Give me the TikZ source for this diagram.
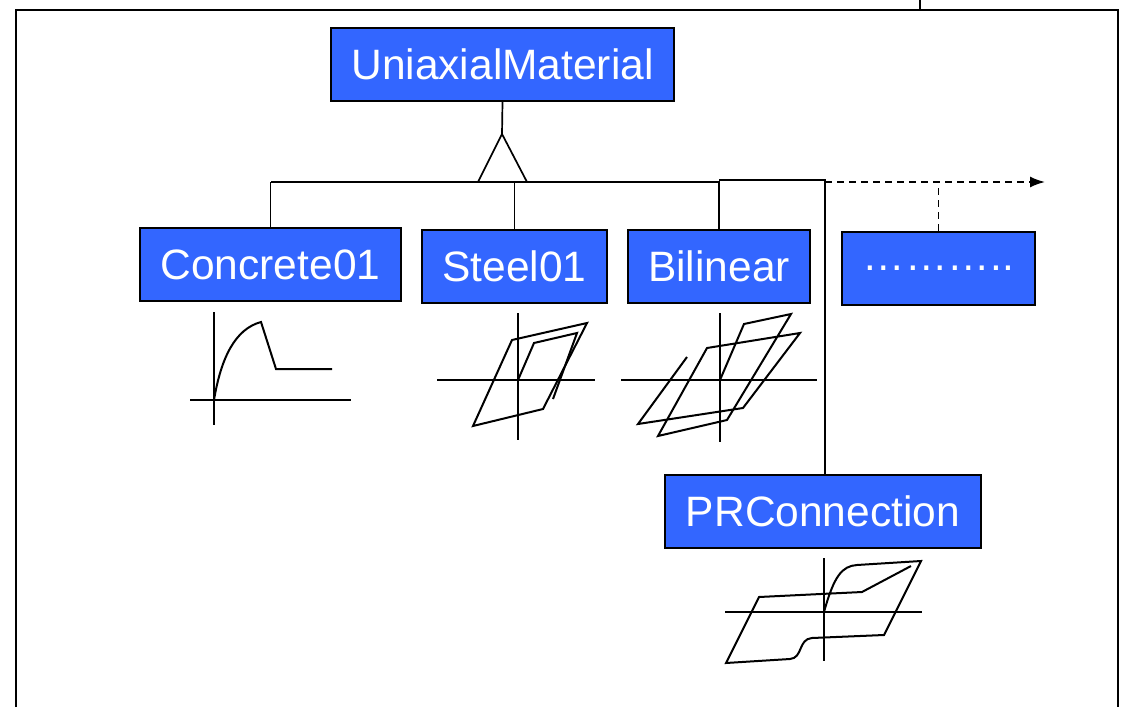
\documentclass[tikz,border=0pt]{standalone}
\usepackage{fontspec}
\setmainfont{Liberation Sans}
\usetikzlibrary{arrows.meta}
\definecolor{matblue}{HTML}{3366FF}
\tikzset{
  matbox/.style={draw=black, line width=2pt, fill=matblue, text=white,
    font=\fontsize{42.5}{50}\selectfont, inner sep=0pt, minimum height=73pt},
  link/.style={line width=1.7pt},
  curve/.style={line width=2pt, line join=miter},
  axis/.style={line width=2pt},
}
\begin{document}
\begin{tikzpicture}[x=1pt,y=-1pt]
  \useasboundingbox (0,0) rectangle (1121,707);
  % frame
  \draw[line width=2.5pt] (16,707) -- (16,10) -- (1118,10) -- (1118,707);
  \draw[line width=2.5pt] (920,0) -- (920,10);
  % classes
  \node[matbox, minimum width=343pt] (uniaxial) at (502.5,64.5) {UniaxialMaterial};
  \node[matbox, minimum width=261pt] (concrete) at (270.5,264.5) {Concrete01};
  \node[matbox, minimum width=185pt] (steel) at (514.5,266) {Steel01};
  \node[matbox, minimum width=182pt] (bilinear) at (719,266) {Bilinear};
  \node[matbox, minimum width=193pt] (other) at (938.5,268) {………..};
  \node[matbox, minimum width=316pt] (prconn) at (823,511) {PRConnection};
  % inheritance
  \coordinate (apex) at (502,134);
  \coordinate (baseL) at (478,182);
  \coordinate (baseR) at (527,182);
  \coordinate (busL) at (271,182);
  \coordinate (prtop) at (825,180);
  \coordinate (arrowend) at (1045,182);
  \draw[link] (uniaxial.south) -- (apex);
  \draw[link] (apex) -- (baseR) -- (baseL) -- cycle;
  \draw[link] (busL) -| (bilinear.north);
  \draw[link] (concrete.north |- busL) -- (concrete.north);
  \draw[link] (steel.north |- busL) -- (steel.north);
  \draw[link] (bilinear.north |- prtop) -- (prtop) -- (prtop |- prconn.north);
  \draw[link, dash pattern=on 7pt off 5pt, -{Latex[length=15pt,width=11pt]}] (prtop |- arrowend) -- (arrowend);
  \draw[link, dash pattern=on 7pt off 5pt] (other.north) -- (other.north |- arrowend);
  % Concrete01 curve
  \draw[axis] (214,312) -- (214,425);
  \draw[axis] (190,400) -- (351,400);
  \draw[curve] (214,400) .. controls (221,358) and (235,329) .. (261,322) -- (276,369) -- (332,369);
  % Steel01 curve
  \draw[axis] (518,313) -- (518,440);
  \draw[axis] (437,380) -- (595,380);
  \draw[curve] (473,426) -- (512,340) -- (587,323) -- (543,409) -- cycle;
  \draw[curve] (518,380) -- (534,343) -- (577,333) -- (553,399);
  % Bilinear curve
  \draw[axis] (720,313) -- (720,442);
  \draw[axis] (621,380) -- (817,380);
  \draw[curve] (720,380) -- (744,324) -- (791,314) -- (727,420) -- (658,436)
    -- (707,348) -- (800,333) -- (743,408) -- (638,424) -- (687,357);
  % PRConnection curve
  \draw[axis] (824,558) -- (824,661);
  \draw[axis] (725,612) -- (922,612);
  \draw[curve] (824,612) .. controls (834,576) and (842,566) .. (857,565)
    -- (921,561) -- (884,635) -- (812,638)
    .. controls (798,639) and (803,658) .. (790,659)
    -- (726,663) -- (759,597) -- (862,592) -- (911,566);
\end{tikzpicture}
\end{document}
